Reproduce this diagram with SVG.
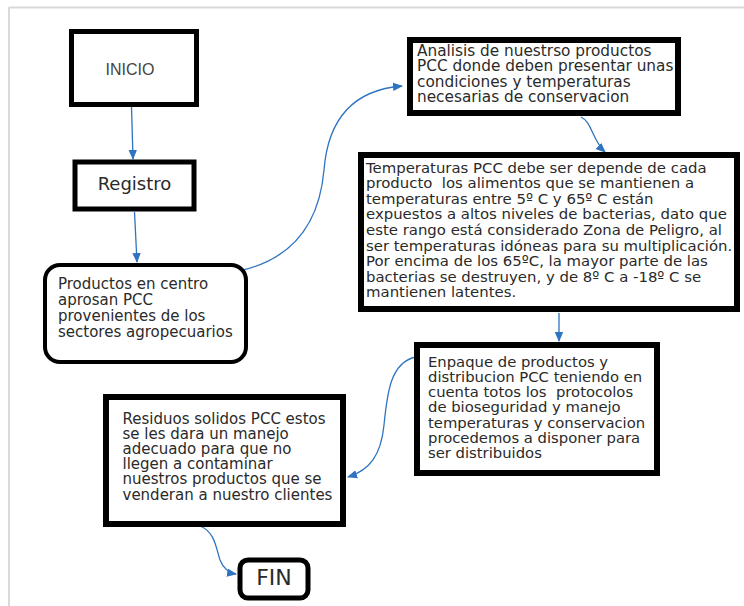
<svg xmlns="http://www.w3.org/2000/svg" width="744" height="606" viewBox="0 0 744 606">
<style>
.box{fill:#fff;stroke:#000;}
.t{font-family:"DejaVu Sans",Verdana,sans-serif;fill:#2a2a2a;}
.c{fill:none;stroke:#2f74c0;stroke-width:1.3;}
</style>
<defs>
<marker id="ah" markerUnits="userSpaceOnUse" markerWidth="10" markerHeight="10" viewBox="0 0 10 10" refX="9" refY="5" orient="auto">
<path d="M0,0.8 L10,5 L0,9.2 Z" fill="#2f74c0"/>
</marker>
</defs>
<rect x="0" y="0" width="744" height="606" fill="#fff"/>
<g id="frame" fill="none" stroke="#d9d9d9" stroke-width="2">
<line x1="9" y1="7.5" x2="744" y2="7.5"/>
<line x1="9" y1="7" x2="9" y2="606"/>
</g>
<g id="connectors">
<path class="c" d="M131.5,107 L133,159" marker-end="url(#ah)"/>
<path class="c" d="M134.5,212 L137,262" marker-end="url(#ah)"/>
<path class="c" d="M243,270 C300,256 320,215 324,170 C328,120 352,90 402,86" marker-end="url(#ah)"/>
<path class="c" d="M581,117 C592,122 592,140 605,152" marker-end="url(#ah)"/>
<path class="c" d="M559,313 L559,341" marker-end="url(#ah)"/>
<path class="c" d="M416,357 C390,362 387,395 384,425 C381,455 370,470 348,477" marker-end="url(#ah)"/>
<path class="c" d="M200,526 C215,532 216,548 220,560 C224,570 230,573 236,574" marker-end="url(#ah)"/>
</g>
<g id="inicio">
<rect class="box" x="71.5" y="31.5" width="125" height="73" stroke-width="5"/>
<text x="130" y="75" text-anchor="middle" font-family="Liberation Sans,Arial,sans-serif" font-size="16" fill="#444">INICIO</text>
</g>
<g id="registro">
<rect class="box" x="75" y="162" width="119" height="47" stroke-width="5"/>
<text class="t" x="134.5" y="190" text-anchor="middle" font-size="18">Registro</text>
</g>
<g id="productos">
<rect class="box" x="45" y="265" width="201" height="97" rx="15" stroke-width="4"/>
<text class="t" font-size="15">
<tspan x="58" y="289">Productos en centro</tspan>
<tspan x="58" y="305">aprosan PCC</tspan>
<tspan x="58" y="321">provenientes de los</tspan>
<tspan x="58" y="337">sectores agropecuarios</tspan>
</text>
</g>
<g id="analisis">
<rect class="box" x="410" y="40" width="268" height="73" stroke-width="6"/>
<text class="t" font-size="15.3">
<tspan x="417" y="55.5">Analisis de nuestrso productos</tspan>
<tspan x="417" y="71">PCC donde deben presentar unas</tspan>
<tspan x="417" y="86.5">condiciones y temperaturas</tspan>
<tspan x="417" y="102">necesarias de conservacion</tspan>
</text>
</g>
<g id="temperaturas">
<rect class="box" x="361" y="155" width="376" height="154" stroke-width="6"/>
<text class="t" font-size="14.9">
<tspan x="366" y="172.5">Temperaturas PCC debe ser depende de cada</tspan>
<tspan x="366" y="188.1">producto&#160; los alimentos que se mantienen a</tspan>
<tspan x="366" y="203.7">temperaturas entre 5º C y 65º C están</tspan>
<tspan x="366" y="219.3">expuestos a altos niveles de bacterias, dato que</tspan>
<tspan x="366" y="234.9">este rango está considerado Zona de Peligro, al</tspan>
<tspan x="366" y="250.5">ser temperaturas idóneas para su multiplicación.</tspan>
<tspan x="366" y="266.1">Por encima de los 65ºC, la mayor parte de las</tspan>
<tspan x="366" y="281.7">bacterias se destruyen, y de 8º C a -18º C se</tspan>
<tspan x="366" y="297.3">mantienen latentes.</tspan>
</text>
</g>
<g id="enpaque">
<rect class="box" x="417" y="345" width="240" height="128" stroke-width="6"/>
<text class="t" font-size="14.8">
<tspan x="428" y="366.5">Enpaque de productos y</tspan>
<tspan x="428" y="381.8">distribucion PCC teniendo en</tspan>
<tspan x="428" y="397.1">cuenta totos los&#160; protocolos</tspan>
<tspan x="428" y="412.4">de bioseguridad y manejo</tspan>
<tspan x="428" y="427.7">temperaturas y conservacion</tspan>
<tspan x="428" y="443">procedemos a disponer para</tspan>
<tspan x="428" y="458.3">ser distribuidos</tspan>
</text>
</g>
<g id="residuos">
<rect class="box" x="106" y="397" width="237" height="127" stroke-width="6"/>
<text class="t" font-size="15">
<tspan x="122.5" y="423.5">Residuos solidos PCC estos</tspan>
<tspan x="122.5" y="438.7">se les dara un manejo</tspan>
<tspan x="122.5" y="453.9">adecuado para que no</tspan>
<tspan x="122.5" y="469.1">llegen a contaminar</tspan>
<tspan x="122.5" y="484.3">nuestros productos que se</tspan>
<tspan x="122.5" y="499.5">venderan a nuestro clientes</tspan>
</text>
</g>
<g id="fin">
<rect class="box" x="240" y="560" width="68" height="38" rx="8" stroke-width="5"/>
<text class="t" x="274" y="585" text-anchor="middle" font-size="22">FIN</text>
</g>
</svg>
